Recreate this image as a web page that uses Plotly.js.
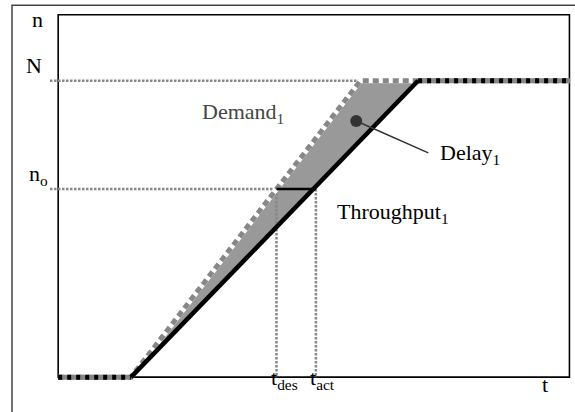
<!DOCTYPE html>
<html><head><meta charset="utf-8">
<script src="https://cdn.plot.ly/plotly-3.0.1.min.js"></script>
<style>html,body{margin:0;padding:0;background:#fff}#chart{width:575px;height:412px}</style>
</head><body><div id="chart"></div>
<script>
// ---- data ----
const demandT = [0, 14.25, 59.1, 100];
const demandN = [0, 0, 81.8, 81.8];
const throughputT = [0, 14.25, 70.4, 100];
const throughputN = [0, 0, 81.8, 81.8];
const levelN = 81.8;
const levelNo = 51.9;
const tDes = 42.7;
const tAct = 50.4;
const delayPoint = [58.3, 70.7];
const delayLabelEnd = [72.4, 61.9];
const xRange = [-1.6, 100.5];
const yRange = [-3, 100.5];

const FONT = '"Liberation Serif", "Times New Roman", serif';
const gray = '#878787';

const traces = [];
// delay area between demand and throughput
traces.push({x: [demandT[1], demandT[2], throughputT[2], throughputT[1]],
             y: [demandN[1], demandN[2], throughputN[2], throughputN[1]],
             mode: 'lines', fill: 'toself', fillcolor: '#999999', line: {width: 0}, hoverinfo: 'skip'});
// reference dotted lines
traces.push({x: [xRange[0], demandT[2], null, xRange[0], tDes, null, tDes, tDes, null, tAct, tAct],
             y: [levelN, levelN, null, levelNo, levelNo, null, levelNo, 0, null, levelNo, 0],
             mode: 'lines', line: {color: gray, width: 2.5, dash: '2.5px,1.5px'}, hoverinfo: 'skip'});
// demand curve: white underlay + gray dotted
traces.push({x: demandT, y: demandN, mode: 'lines', line: {color: '#ffffff', width: 5}, hoverinfo: 'skip'});
traces.push({x: demandT, y: demandN, mode: 'lines', line: {color: gray, width: 5, dash: '6px,4px'}, hoverinfo: 'skip'});
// throughput flats (shared with demand): gray solid + black dots
const flatX = [throughputT[0], throughputT[1], null, throughputT[2], throughputT[3]];
const flatY = [throughputN[0], throughputN[1], null, throughputN[2], throughputN[3]];
traces.push({x: flatX, y: flatY, mode: 'lines', line: {color: gray, width: 5}, hoverinfo: 'skip'});
traces.push({x: flatX, y: flatY, mode: 'lines', line: {color: '#000', width: 5, dash: '4px,5px'}, hoverinfo: 'skip'});
// throughput diagonal
traces.push({x: throughputT.slice(1, 3), y: throughputN.slice(1, 3), mode: 'lines',
             line: {color: '#000', width: 4.5}, hoverinfo: 'skip'});
// delay at n_o
traces.push({x: [tDes, tAct], y: [levelNo, levelNo], mode: 'lines', line: {color: '#000', width: 2.5}, hoverinfo: 'skip'});
// delay label connector + marker
traces.push({x: [delayPoint[0], delayLabelEnd[0]], y: [delayPoint[1], delayLabelEnd[1]], mode: 'lines',
             line: {color: '#333', width: 1.6}, hoverinfo: 'skip'});
traces.push({x: [delayPoint[0]], y: [delayPoint[1]], mode: 'markers',
             marker: {color: '#333', size: 12}, hoverinfo: 'skip'});

const fs = 22;
const ann = (text, x, y, xa, opts) => Object.assign({text: text, x: x, y: y, xanchor: xa, yanchor: 'middle',
  showarrow: false, font: {family: FONT, size: fs, color: '#000'}}, opts || {});

const layout = {
  width: 575, height: 412,
  margin: {l: 50, r: 3, t: 13, b: 24, pad: 0},
  paper_bgcolor: '#fff', plot_bgcolor: '#fff',
  showlegend: false,
  font: {family: FONT, size: fs},
  xaxis: {range: xRange, showgrid: false, zeroline: false, showticklabels: false, ticks: '', showline: false, fixedrange: true},
  yaxis: {range: yRange, showgrid: false, zeroline: false, showticklabels: false, ticks: '', showline: false, fixedrange: true},
  shapes: [
    {type: 'rect', xref: 'paper', yref: 'paper', x0: -0.0728, x1: 1.05, y0: -0.1, y1: 1.021,
     line: {color: '#444', width: 1.5}, layer: 'below'},
    {type: 'rect', xref: 'x', yref: 'y', x0: 0, x1: 100, y0: 0, y1: 100,
     line: {color: '#000', width: 1.6}, layer: 'below'}
  ],
  annotations: [
    ann('n', -0.023, 0.984, 'center', {xref: 'paper', yref: 'paper'}),
    ann('N', -0.031, 0.861, 'center', {xref: 'paper', yref: 'paper'}),
    ann('n<sub>o</sub>', -0.044, 0.568, 'left', {xref: 'paper', yref: 'paper'}),
    ann('Demand<sub>1</sub>', 36.2, 72.9, 'center', {font: {family: FONT, size: fs, color: '#444'}}),
    ann('Delay<sub>1</sub>', 74.3, 61.6, 'left'),
    ann('Throughput<sub>1</sub>', 54.1, 45.3, 'left'),
    ann('t<sub>des</sub>', 41.2, -0.6, 'left'),
    ann('t<sub>act</sub>', 48.9, -0.6, 'left'),
    ann('t', 95.2, -1.9, 'center')
  ]
};

Plotly.newPlot('chart', traces, layout, {staticPlot: true, displayModeBar: false});
</script>
</body></html>
